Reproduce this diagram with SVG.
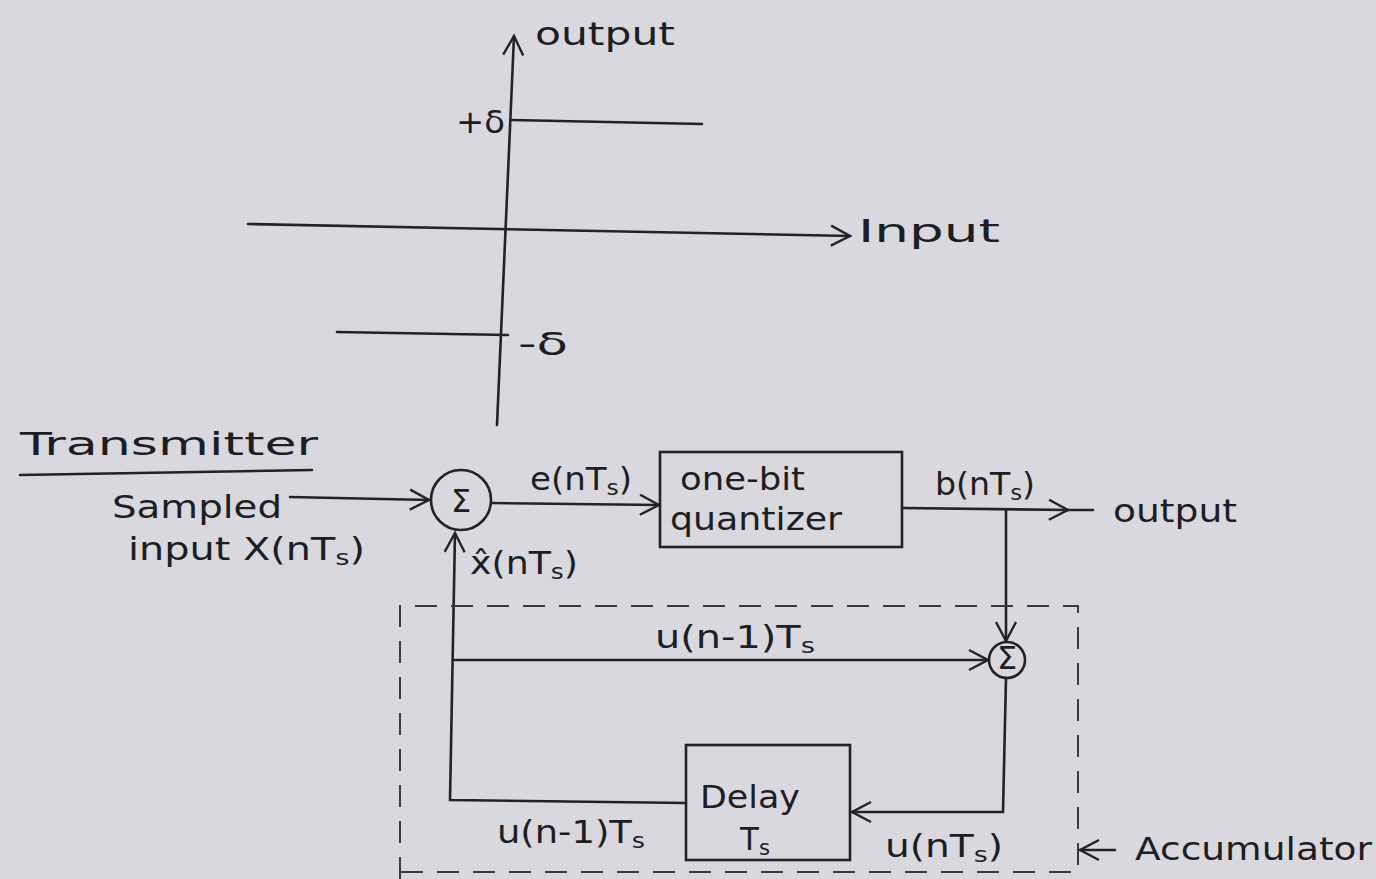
<svg xmlns="http://www.w3.org/2000/svg" width="1376" height="879" viewBox="0 0 1376 879">
<style>
.ln{stroke:#232326;stroke-width:2.6;fill:none;stroke-linecap:round}
.dash{stroke:#3a3a40;stroke-width:2;fill:none;stroke-dasharray:22 14}
.t{font-family:"DejaVu Sans","Liberation Sans",sans-serif;fill:#1e1e22;font-size:32px}
.s{font-size:22px}
.box{stroke:#232326;stroke-width:2.6;fill:none}
</style>
<defs>
<marker id="ahL" viewBox="0 0 24 24" refX="21" refY="12" markerWidth="24" markerHeight="24" markerUnits="userSpaceOnUse" orient="auto">
<path d="M2,2 L21,12 L2,22" fill="none" stroke="#232326" stroke-width="2.4"/>
</marker>
</defs>
<rect width="1376" height="879" fill="#d8d8de"/>

<g id="graph">
<line class="ln" x1="497" y1="425" x2="514" y2="36" marker-end="url(#ahL)"/>
<line class="ln" x1="248" y1="224" x2="850" y2="236" marker-end="url(#ahL)"/>
<line class="ln" x1="512" y1="120" x2="702" y2="124"/>
<line class="ln" x1="337" y1="332" x2="508" y2="335"/>
<text class="t" x="535" y="45" textLength="140" lengthAdjust="spacingAndGlyphs">output</text>
<text class="t" x="858" y="242" textLength="142" lengthAdjust="spacingAndGlyphs">Input</text>
<text class="t" x="456" y="133" textLength="49" lengthAdjust="spacingAndGlyphs">+δ</text>
<text class="t" x="518" y="355" textLength="50" lengthAdjust="spacingAndGlyphs">-δ</text>
</g>

<g id="title">
<text class="t" x="20" y="455" font-size="38" textLength="298" lengthAdjust="spacingAndGlyphs">Transmitter</text>
<line class="ln" x1="20" y1="475" x2="312" y2="470"/>
</g>

<g id="input">
<text class="t" x="112" y="518" font-size="34" textLength="170" lengthAdjust="spacingAndGlyphs">Sampled</text>
<text class="t" x="128" y="560" font-size="34" textLength="237" lengthAdjust="spacingAndGlyphs">input X(nT<tspan class="s" dy="5">s</tspan><tspan dy="-5">)</tspan></text>
</g>

<g id="sum1">
<circle class="box" cx="461" cy="500" r="30"/>
<text class="t" x="461" y="512" text-anchor="middle">Σ</text>
</g>

<g id="quantizer">
<rect class="box" x="660" y="452" width="242" height="95"/>
<text class="t" x="680" y="490" textLength="125" lengthAdjust="spacingAndGlyphs">one-bit</text>
<text class="t" x="670" y="530" textLength="172" lengthAdjust="spacingAndGlyphs">quantizer</text>
</g>

<g id="out">
<text class="t" x="1113" y="522" textLength="124" lengthAdjust="spacingAndGlyphs">output</text>
</g>

<g id="sum2">
<circle class="box" cx="1007" cy="660" r="18"/>
<text class="t" x="1007" y="669" text-anchor="middle" font-size="23">Σ</text>
</g>

<g id="delay">
<rect class="box" x="686" y="745" width="164" height="115"/>
<text class="t" x="700" y="808" font-size="34" textLength="100" lengthAdjust="spacingAndGlyphs">Delay</text>
<text class="t" x="740" y="850" textLength="30" lengthAdjust="spacingAndGlyphs">T<tspan class="s" dy="5">s</tspan></text>
</g>

<g id="connectors">
<line class="ln" x1="290" y1="497" x2="429" y2="500" marker-end="url(#ahL)"/>
<line class="ln" x1="492" y1="503" x2="659" y2="505" marker-end="url(#ahL)"/>
<line class="ln" x1="902" y1="508" x2="1068" y2="510" marker-end="url(#ahL)"/>
<line class="ln" x1="1068" y1="510" x2="1093" y2="510"/>
<line class="ln" x1="1006" y1="510" x2="1006" y2="641" marker-end="url(#ahL)"/>
<line class="ln" x1="453" y1="660" x2="988" y2="660" marker-end="url(#ahL)"/>
<polyline class="ln" points="686,803 450,800 455,533" marker-end="url(#ahL)"/>
<polyline class="ln" points="1006,678 1003,812 852,812" marker-end="url(#ahL)"/>
<text class="t" x="530" y="490" textLength="102" lengthAdjust="spacingAndGlyphs">e(nT<tspan class="s" dy="5">s</tspan><tspan dy="-5">)</tspan></text>
<text class="t" x="935" y="495" textLength="100" lengthAdjust="spacingAndGlyphs">b(nT<tspan class="s" dy="5">s</tspan><tspan dy="-5">)</tspan></text>
<text class="t" x="470" y="574" textLength="108" lengthAdjust="spacingAndGlyphs">x̂(nT<tspan class="s" dy="5">s</tspan><tspan dy="-5">)</tspan></text>
<text class="t" x="655" y="648" textLength="160" lengthAdjust="spacingAndGlyphs">u(n-1)T<tspan class="s" dy="5">s</tspan></text>
<text class="t" x="497" y="843" textLength="148" lengthAdjust="spacingAndGlyphs">u(n-1)T<tspan class="s" dy="5">s</tspan></text>
<text class="t" x="885" y="857" textLength="118" lengthAdjust="spacingAndGlyphs">u(nT<tspan class="s" dy="5">s</tspan><tspan dy="-5">)</tspan></text>
</g>

<g id="accumulator">
<polyline class="dash" points="400,879 400,606 1078,606 1078,872 400,872"/>
<line class="ln" x1="1115" y1="850" x2="1080" y2="850" marker-end="url(#ahL)"/>
<text class="t" x="1135" y="860" font-size="34" textLength="237" lengthAdjust="spacingAndGlyphs">Accumulator</text>
</g>
</svg>
